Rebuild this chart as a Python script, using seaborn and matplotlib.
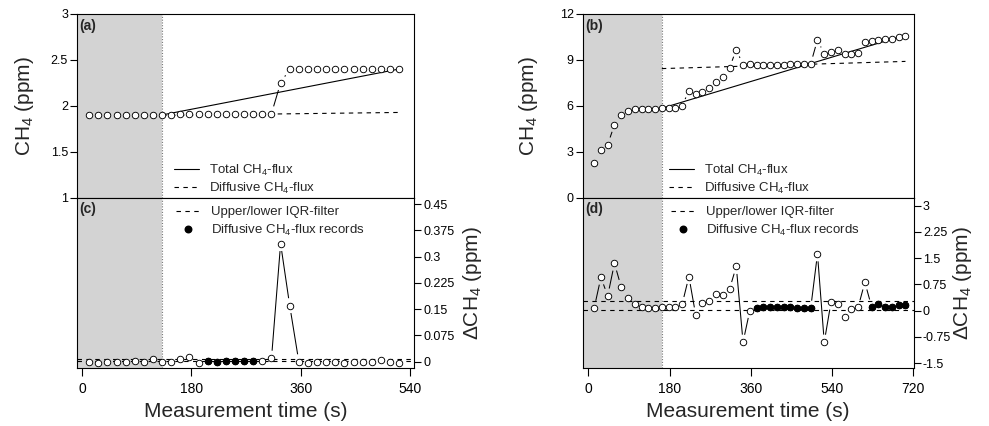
import numpy as np
import pandas as pd
import matplotlib
matplotlib.use("Agg")
import matplotlib.pyplot as plt
import seaborn as sns
from matplotlib.collections import LineCollection
from matplotlib.lines import Line2D

# ---------------- data ----------------
time_a = [12, 27, 42, 57, 72, 87, 102, 117, 132, 147, 162, 177, 192, 207, 222, 237, 252, 267,
          282, 297, 312, 327, 342, 357, 372, 387, 402, 417, 432, 447, 462, 477, 492, 507, 522]
ch4_a = [1.900, 1.896, 1.895, 1.895, 1.894, 1.897, 1.897, 1.903, 1.900, 1.900, 1.906, 1.914,
         1.909, 1.909, 1.908, 1.909, 1.910, 1.910, 1.910, 1.912, 1.915, 2.250, 2.400, 2.400,
         2.398, 2.398, 2.398, 2.398, 2.396, 2.396, 2.396, 2.396, 2.402, 2.402, 2.399]
dch4_c = [0.0, -0.005, -0.001, -0.001, -0.001, 0.003, 0.0, 0.008, -0.001, 0.0, 0.008, 0.013,
          -0.005, 0.001, 0.0, 0.001, 0.002, 0.002, 0.001, 0.003, 0.010, 0.337, 0.160, 0.0,
          -0.003, 0.0, 0.0, 0.0, -0.003, 0.0, 0.0, 0.0, 0.006, 0.0, -0.003]
diffusive_idx_c = [13, 14, 15, 16, 17, 18]
iqr_c = [0.001, 0.008]
flux_time_a = [132, 522]
total_flux_a = [1.900, 2.400]
diff_flux_a = [1.895, 1.927]
pre_end_a = 132

time_b = [13, 28, 43, 58, 73, 88, 103, 118, 133, 148, 163, 178, 193, 208, 223, 238, 253, 268,
          283, 298, 313, 328, 343, 358, 373, 388, 403, 418, 433, 448, 463, 478, 493, 508, 523,
          538, 553, 568, 583, 598, 613, 628, 643, 658, 673, 688, 703]
ch4_b = [2.23, 3.09, 3.46, 4.76, 5.37, 5.67, 5.80, 5.80, 5.82, 5.82, 5.85, 5.85, 5.87, 5.99,
         6.99, 6.75, 6.92, 7.14, 7.53, 7.90, 8.48, 9.67, 8.68, 8.70, 8.68, 8.68, 8.68, 8.68,
         8.68, 8.70, 8.72, 8.74, 8.74, 10.32, 9.37, 9.52, 9.63, 9.41, 9.41, 9.45, 10.17, 10.23,
         10.32, 10.37, 10.37, 10.48, 10.58]
dch4_d = [0.07, 0.95, 0.42, 1.35, 0.67, 0.35, 0.19, 0.09, 0.07, 0.07, 0.09, 0.09, 0.09, 0.18,
          0.97, -0.12, 0.23, 0.28, 0.47, 0.45, 0.61, 1.26, -0.90, 0.0, 0.07, 0.11, 0.09, 0.11,
          0.09, 0.09, 0.07, 0.07, 0.07, 1.62, -0.90, 0.24, 0.18, -0.17, 0.04, 0.09, 0.81, 0.11,
          0.18, 0.11, 0.09, 0.16, 0.16]
diffusive_idx_d = [24, 25, 26, 27, 28, 29, 30, 31, 32, 41, 42, 43, 44, 45, 46]
iqr_d = [0.02, 0.26]
flux_time_b = [163, 703]
total_flux_b = [5.84, 10.62]
diff_flux_b = [8.43, 8.90]
pre_end_b = 163

yticks_a = [1, 1.5, 2, 2.5, 3]
yticklabels_a = ["1", "1.5", "2", "2.5", "3"]
yticks_c = [0, 0.075, 0.15, 0.225, 0.3, 0.375, 0.45]
yticklabels_c = ["0", "0.075", "0.15", "0.225", "0.3", "0.375", "0.45"]
xticks_ac = [0, 180, 360, 540]
yticks_b = [0, 3, 6, 9, 12]
yticklabels_b = ["0", "3", "6", "9", "12"]
yticks_d = [-1.5, -0.75, 0, 0.75, 1.5, 2.25, 3]
yticklabels_d = ["-1.5", "-0.75", "0", "0.75", "1.5", "2.25", "3"]
xticks_bd = [0, 180, 360, 540, 720]

# ---------------- style ----------------
sns.set_theme(style="ticks")
plt.rcParams["font.family"] = ["Liberation Sans", "DejaVu Sans"]
plt.rcParams["mathtext.fontset"] = "custom"
plt.rcParams["mathtext.rm"] = "Liberation Sans"
plt.rcParams["mathtext.it"] = "Liberation Sans:italic"
plt.rcParams["axes.linewidth"] = 0.8
plt.rcParams["axes.edgecolor"] = "black"

W, H = 989, 426
fig = plt.figure(figsize=(W / 100, H / 100), dpi=100)


def rect(x0, y0, x1, y1):
    return [x0 / W, 1 - y1 / H, (x1 - x0) / W, (y1 - y0) / H]


ax_a = fig.add_axes(rect(77, 14, 414, 197.5))
ax_c = fig.add_axes(rect(77, 197.5, 414, 368))
ax_b = fig.add_axes(rect(582.7, 14, 913.8, 197.5))
ax_d = fig.add_axes(rect(582.7, 197.5, 913.8, 368))

xlim_ac = (-8.2, 546.6)
xlim_bd = (-12.4, 721.5)
ax_a.set_xlim(*xlim_ac); ax_c.set_xlim(*xlim_ac)
ax_b.set_xlim(*xlim_bd); ax_d.set_xlim(*xlim_bd)
ax_a.set_ylim(1, 3)
ax_c.set_ylim(-0.018, 0.4686)
ax_b.set_ylim(0, 12)
ax_d.set_ylim(-1.64, 3.23)

GAP = 7.5
MS = 22


def connect(ax, x, y):
    T = ax.transData
    P = T.transform(np.column_stack([x, y]))
    segs = []
    for p0, p1 in zip(P[:-1], P[1:]):
        d = p1 - p0
        L = np.hypot(*d)
        if L > 2 * GAP + 0.6:
            u = d / L
            segs.append(T.inverted().transform(np.array([p0 + u * GAP, p1 - u * GAP])))
    ax.add_collection(LineCollection(segs, colors="black", linewidths=0.75, zorder=2))


def points(ax, x, y, filled_idx=None):
    df = pd.DataFrame({"t": x, "v": y})
    sns.scatterplot(data=df, x="t", y="v", ax=ax, marker="o", s=MS, color="white",
                    edgecolor="black", linewidth=0.65, zorder=3, legend=False)
    if filled_idx is not None:
        sub = df.iloc[filled_idx]
        sns.scatterplot(data=sub, x="t", y="v", ax=ax, marker="o", s=MS, color="black",
                        edgecolor="black", linewidth=0.65, zorder=4, legend=False)
    connect(ax, x, y)


def shade(ax, xl, end):
    ax.axvspan(xl[0], end, color="#d3d3d3", lw=0, zorder=0)
    ax.axvline(end, color="#777777", ls=(0, (1, 1.5)), lw=0.8, zorder=1)


DASH = (0, (4, 4))

for ax_top, ax_bot, t, ch4, dch4, fidx, iqr, ft, tot, dif, pend, xl in [
    (ax_a, ax_c, time_a, ch4_a, dch4_c, diffusive_idx_c, iqr_c, flux_time_a, total_flux_a,
     diff_flux_a, pre_end_a, xlim_ac),
    (ax_b, ax_d, time_b, ch4_b, dch4_d, diffusive_idx_d, iqr_d, flux_time_b, total_flux_b,
     diff_flux_b, pre_end_b, xlim_bd),
]:
    shade(ax_top, xl, pend)
    shade(ax_bot, xl, pend)
    sns.lineplot(x=ft, y=tot, ax=ax_top, color="black", lw=0.8, zorder=2)
    sns.lineplot(x=ft, y=dif, ax=ax_top, color="black", lw=0.8, ls=DASH, zorder=2)
    points(ax_top, t, ch4)
    for v in iqr:
        ax_bot.axhline(v, color="black", lw=0.8, ls=DASH, zorder=2)
    points(ax_bot, t, dch4, fidx)

# axes / ticks
for ax in (ax_a, ax_b):
    ax.set_xticks([])
    ax.set_xlabel("")
    ax.set_ylabel("CH$_4$ (ppm)", fontsize=15)
    ax.tick_params(axis="y", direction="out", length=5, width=0.8, pad=1.5,
                   labelsize=9, colors="black")
ax_a.set_yticks(yticks_a, yticklabels_a)
ax_b.set_yticks(yticks_b, yticklabels_b)
ax_a.yaxis.set_label_coords(-0.122, 0.5)
ax_b.yaxis.set_label_coords(-0.128, 0.5)

for ax, yt, ytl, xt in [(ax_c, yticks_c, yticklabels_c, xticks_ac),
                        (ax_d, yticks_d, yticklabels_d, xticks_bd)]:
    ax.yaxis.tick_right()
    ax.yaxis.set_label_position("right")
    ax.set_yticks(yt, ytl)
    ax.set_xticks(xt, [str(v) for v in xt])
    ax.tick_params(axis="y", direction="out", length=5, width=0.8, pad=1.5,
                   labelsize=9, colors="black")
    ax.tick_params(axis="x", direction="out", length=6, width=0.8, pad=4,
                   labelsize=10, colors="black")
    ax.set_ylabel("ΔCH$_4$ (ppm)", fontsize=15, rotation=90)
    ax.set_xlabel("Measurement time (s)", fontsize=15)
    ax.xaxis.set_label_coords(0.5, -0.2)
ax_c.yaxis.set_label_coords(1.138, 0.5)
ax_d.yaxis.set_label_coords(1.112, 0.5)

for ax in (ax_a, ax_b, ax_c, ax_d):
    for s in ax.spines.values():
        s.set_visible(True)
        s.set_color("black")
        s.set_linewidth(0.8)

for ax, lab in [(ax_a, "(a)"), (ax_b, "(b)"), (ax_c, "(c)"), (ax_d, "(d)")]:
    ax.text(0.008, 0.975, lab, transform=ax.transAxes, ha="left", va="top",
            fontsize=10, fontweight="bold")

# legends
LFS = 9.5
h_top = [Line2D([], [], color="black", lw=0.8),
         Line2D([], [], color="black", lw=0.8, ls=DASH)]
l_top = ["Total CH$_4$-flux", "Diffusive CH$_4$-flux"]
h_bot = [Line2D([], [], color="black", lw=0.8, ls=DASH),
         Line2D([], [], color="black", marker="o", ls="none", markersize=4.7)]
l_bot = ["Upper/lower IQR-filter", "Diffusive CH$_4$-flux records"]

for ax, x0 in [(ax_a, (173 - 77) / 337), (ax_b, (668 - 582.7) / 331)]:
    ax.legend(h_top, l_top, loc="lower left", bbox_to_anchor=(x0, 0.0), frameon=False,
              fontsize=LFS, handlelength=1.9, handletextpad=0.75, borderpad=0.1,
              borderaxespad=0.0, labelspacing=0.25)
for ax, x0 in [(ax_c, (173 - 77) / 337), (ax_d, (668 - 582.7) / 331)]:
    ax.legend(h_bot, l_bot, loc="upper left", bbox_to_anchor=(x0, 0.965), frameon=False,
              fontsize=LFS, handlelength=1.9, handletextpad=0.75, borderpad=0.2,
              borderaxespad=0.0, labelspacing=0.35)

fig.savefig("out.png", dpi=100)
